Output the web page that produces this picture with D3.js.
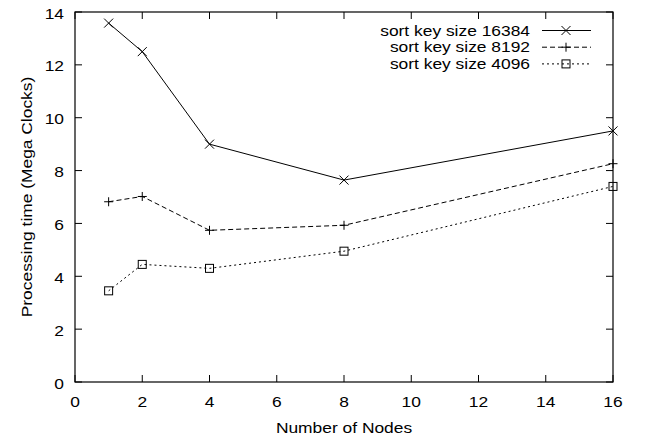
<!DOCTYPE html>
<html><head><meta charset="utf-8">
<script src="https://cdn.jsdelivr.net/npm/d3@7"></script>
<style>body{margin:0;background:#fff}svg{display:block}text{font-family:"Liberation Sans",Arial,sans-serif;font-size:14.5px;fill:#000}</style>
</head><body><svg id="c" width="648" height="440"></svg>
<script>
const nodes = [1, 2, 4, 8, 16];
const key16384 = [13.58, 12.5, 9.0, 7.64, 9.5];
const key8192 = [6.82, 7.02, 5.74, 5.93, 8.26];
const key4096 = [3.45, 4.45, 4.3, 4.95, 7.4];
const seriesNames = ["sort key size 16384", "sort key size 8192", "sort key size 4096"];
const xTicks = [0, 2, 4, 6, 8, 10, 12, 14, 16];
const yTicks = [0, 2, 4, 6, 8, 10, 12, 14];

const svg = d3.select("#c");
const L = 75, R = 613, T = 12, B = 382;
const x = d3.scaleLinear().domain([0, 16]).range([L, R]);
const y = d3.scaleLinear().domain([0, 14]).range([B, T]);
const SX = 1.2; // wide glyphs as in reference

function txt(px, py, s, anchor, rot) {
  return svg.append("text")
    .attr("transform", `translate(${px},${py})${rot ? " rotate(-90)" : ""} scale(${SX},1)`)
    .attr("text-anchor", anchor).text(s);
}

// ticks (inward, mirrored)
const tl = 7;
const g = svg.append("g");
xTicks.forEach(t => {
  g.append("line").attr("x1", x(t)).attr("x2", x(t)).attr("y1", B).attr("y2", B - tl).attr("stroke", "#000");
  g.append("line").attr("x1", x(t)).attr("x2", x(t)).attr("y1", T).attr("y2", T + tl).attr("stroke", "#000");
  txt(x(t), B + 25, t, "middle");
});
yTicks.forEach(t => {
  g.append("line").attr("x1", L).attr("x2", L + tl).attr("y1", y(t)).attr("y2", y(t)).attr("stroke", "#000");
  g.append("line").attr("x1", R).attr("x2", R - tl).attr("y1", y(t)).attr("y2", y(t)).attr("stroke", "#000");
  txt(L - 11, y(t) + 6.5, t, "end");
});
g.append("rect").attr("x", L).attr("y", T).attr("width", R - L).attr("height", B - T)
  .attr("fill", "none").attr("stroke", "#000").attr("stroke-width", 1.2);

txt((L + R) / 2, 433, "Number of Nodes", "middle");
txt(32, (T + B) / 2, "Processing time (Mega Clocks)", "middle", true);

const series = [
  {name: seriesNames[0], vals: key16384, dash: null, mark: "x"},
  {name: seriesNames[1], vals: key8192, dash: "5,3", mark: "plus"},
  {name: seriesNames[2], vals: key4096, dash: "2,3", mark: "sq"}
];

function marker(sel, type, cx, cy) {
  const s = 4.5;
  if (type === "x") {
    sel.append("path").attr("d", `M${cx - s},${cy - s}L${cx + s},${cy + s}M${cx - s},${cy + s}L${cx + s},${cy - s}`)
      .attr("stroke", "#000").attr("fill", "none");
  } else if (type === "plus") {
    sel.append("path").attr("d", `M${cx - s},${cy}L${cx + s},${cy}M${cx},${cy - s}L${cx},${cy + s}`)
      .attr("stroke", "#000").attr("fill", "none");
  } else {
    sel.append("rect").attr("x", cx - 4).attr("y", cy - 4).attr("width", 8).attr("height", 8)
      .attr("stroke", "#000").attr("fill", "none");
  }
}

const line = d3.line().x(d => x(d[0])).y(d => y(d[1]));
series.forEach((s, i) => {
  const pts = nodes.map((n, j) => [n, s.vals[j]]);
  svg.append("path").attr("d", line(pts)).attr("fill", "none").attr("stroke", "#000")
    .attr("stroke-width", 1).attr("stroke-dasharray", s.dash);
  pts.forEach(p => marker(svg, s.mark, x(p[0]), y(p[1])));
  // legend
  const base = 35.5 + i * 16.7;
  txt(530, base, s.name, "end");
  const ly = base - 5;
  svg.append("line").attr("x1", 542).attr("x2", 591).attr("y1", ly).attr("y2", ly)
    .attr("stroke", "#000").attr("stroke-dasharray", s.dash);
  marker(svg, s.mark, 566, ly);
});
</script></body></html>
